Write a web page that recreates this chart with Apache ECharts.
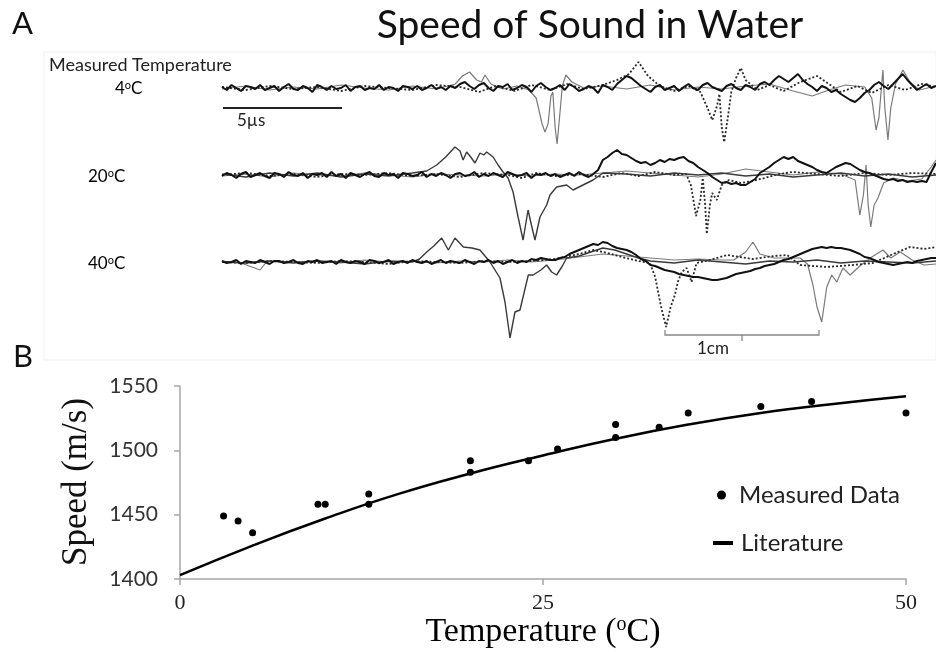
<!DOCTYPE html>
<html><head><meta charset="utf-8">
<script src="https://cdn.jsdelivr.net/npm/echarts@6/dist/echarts.min.js"></script>
<style>html,body{margin:0;padding:0;background:#fff}#c{width:936px;height:652px}</style>
</head><body><div id="c"></div>
<script>
// ---------- Panel A: waveforms (time in µs, amplitude in arbitrary units) ----------
const STEP = 0.2; // sampling interval of the dense black traces (µs)
const black4 = [1,-2,3,0,-3,2,1,-1,3,-2,0,2,-3,1,4,-1,-2,2,0,-4,3,1,-2,2,-1,0,3,-3,1,2,-2,0,-1,3,-2,1,0,-3,2,1,-1,2,-2,0,3,-1,1,-2,2,0,
 4,6,2,-1,3,5,0,-3,2,1,4,-2,0,3,1,-4,2,5,1,-2,
 0,3,-2,4,1,-3,-1,2,0,-5,3,1,-2,4,8,12,10,6,2,-1,
 -4,1,3,-2,0,2,-3,1,4,0,-2,3,5,1,-1,-3,2,4,0,-2,
 3,1,-2,4,6,3,8,12,9,6,10,14,8,4,1,-3,2,0,-4,-2,
 -6,-9,-12,-14,-10,-5,-2,3,6,2,-1,4,9,14,8,3,-2,1,4,0,2];
const dotted4 = [[0,1],[1,-2],[2,2],[3,-1],[4,1],[5,-3],[6,2],[7,0],[8,-2],[9,3],[10,1],[10.8,-4],[11.5,2],[12.3,-3],[13,3],[13.8,-2],[14.5,4],[15.2,-1],[16,3],[16.6,8],[17.1,14],[17.5,26],[17.9,12],[18.4,2],[19,-3],[19.6,2],[20.1,-4],[20.4,-20],[20.6,-32],[20.8,-18],[20.9,-6],[21.0,-40],[21.1,-54],[21.25,-30],[21.4,-4],[21.6,10],[21.8,20],[22.0,8],[22.5,-2],[23,3],[23.6,-3],[24.3,6],[25,12],[25.5,4],[26,-4],[26.7,2],[27.3,-5],[28,3],[28.7,-2],[29.4,4],[30,1]];
const gray4 = [[0,-1],[1,2],[2,-2],[3,1],[4,-1],[5,3],[6,0],[7,-2],[8,2],[9,-1],[9.8,4],[10.1,12],[10.4,16],[10.7,8],[10.9,6],[11.05,13],[11.3,4],[11.8,-1],[12.4,2],[12.9,-2],[13.2,-10],[13.45,-36],[13.57,-44],[13.7,-36],[13.82,-8],[13.9,-4],[14.0,-40],[14.08,-56],[14.18,-30],[14.3,2],[14.45,13],[14.7,6],[15.2,0],[16,2],[17,-1],[18,3],[19,-2],[20,1],[21,-1],[22,2],[23,4],[24,-3],[24.8,-8],[25.5,-2],[26.2,3],[27,1],[27.3,-10],[27.48,-42],[27.6,-30],[27.77,18],[27.85,-20],[27.98,-52],[28.1,-20],[28.3,4],[28.61,18],[28.9,6],[29.3,-2],[30,2]];

const black20 = [-1,2,0,-3,1,3,-2,0,2,-1,-3,2,1,-2,3,0,-1,2,-3,1,0,2,-2,3,-1,1,-3,2,0,-2,1,3,-1,-2,2,0,1,-3,2,1,-1,0,3,-2,1,-1,2,0,-3,1,
 2,-1,0,3,-2,1,-1,2,0,-2,3,1,-1,0,2,-3,1,0,2,-1,
 1,-2,0,2,-1,3,0,-2,1,5,15,18,22,25,21,20,17,14,12,13,
 10,12,15,13,16,15,17,18,14,12,8,5,2,-2,-5,-8,-7,-9,-8,-10,
 -10,-7,-4,2,5,8,12,15,18,16,18,14,12,10,8,5,3,2,5,8,
 10,12,11,8,5,3,2,0,-2,-4,-5,-4,-6,-5,-7,-6,-7,-6,-7,3,12];
const solid20 = [[0,1],[1,-2],[2,2],[3,-1],[4,2],[5,-2],[6,1],[7,-1],[8,2],[8.6,4],[9.02,10],[9.4,18],[9.79,28],[10.0,24],[10.13,15],[10.28,23],[10.45,18],[10.63,12],[10.84,22],[11.0,20],[11.12,23],[11.39,18],[11.6,10],[11.81,3],[12.02,-3],[12.23,-17],[12.44,-42],[12.65,-65],[12.86,-35],[13.0,-50],[13.15,-65],[13.36,-42],[13.64,-30],[13.78,-20],[14.06,-12],[14.48,-10],[14.75,-15],[15.17,-10],[15.59,-5],[16.01,2],[17,1],[18,-1],[19,2],[20,0],[21,2],[22,-1],[23,1],[24,-2],[25,0],[26,2],[27,-1],[28,1],[29,-2],[30,0]];
const dotted20 = [[0,0],[1,2],[2,-1],[3,1],[4,-2],[5,1],[6,0],[7,2],[8,-1],[9,1],[10,-2],[11,2],[12,0],[12.6,-3],[13.2,2],[14,-1],[15,1],[16,-2],[16.8,2],[17.5,-1],[18.2,3],[19,0],[19.5,1],[19.7,-10],[19.92,-41],[20.1,-25],[20.2,-3],[20.3,-30],[20.37,-59],[20.5,-30],[20.6,-18],[20.79,-25],[21.0,-10],[21.3,-5],[21.8,-8],[22.3,-6],[22.8,-3],[23.4,1],[24,3],[25,1],[26,-1],[27,2],[28,0],[29,2],[30,1]];
const gray20 = [[0,-1],[1,1],[2,-2],[3,2],[4,0],[5,-1],[6,2],[7,0],[8,-2],[9,1],[10,0],[11,-1],[12,1],[13,-1],[14,1],[15,0],[16,2],[17,4],[18,2],[19,0],[20,-2],[21,1],[22,6],[23,3],[24,0],[25,3],[26,1],[26.6,-5],[26.8,-40],[26.95,-20],[27.06,10],[27.15,-30],[27.26,-52],[27.4,-30],[27.56,-23],[27.8,-8],[28.2,-3],[28.8,-6],[29.4,-4],[29.8,8],[30,15]];

const black40 = [1,-1,0,2,-2,1,0,-1,2,0,-2,1,1,-1,0,2,-1,-2,1,0,2,-1,0,1,-2,2,0,-1,1,0,-2,2,1,-1,0,2,-2,0,1,-1,2,0,-1,1,-2,0,2,-1,1,0,
 -1,2,0,-2,1,0,2,-1,1,-2,0,2,-1,1,0,3,2,4,3,2,
 2,4,5,8,10,12,14,16,18,17,20,19,16,14,13,12,10,7,3,1,
 -3,-4,-6,-8,-9,-10,-12,-13,-14,-15,-15,-16,-17,-18,-18,-17,-16,-14,-12,-11,
 -10,-9,-7,-6,-4,-3,-2,0,2,3,5,7,9,11,13,14,15,14,15,14,
 14,13,12,10,8,5,4,2,0,-1,-2,-3,-2,-1,0,-1,1,2,3,4,4];
const solid40 = [[0,0],[1,-1],[2,1],[3,-1],[4,1],[5,0],[6,-2],[7,1],[8,0],[8.3,3],[8.6,10],[8.9,16],[9.23,24],[9.51,12],[9.79,24],[10.14,15],[10.5,14],[10.84,12],[11.26,0],[11.68,-16],[11.89,-40],[12.1,-76],[12.31,-50],[12.52,-48],[12.7,-30],[12.87,-13],[13.07,-13],[13.4,-8],[13.64,-3],[13.85,-10],[14.06,-13],[14.3,-4],[14.48,4],[15,6],[15.5,10],[16,14],[16.5,12],[17,8],[17.5,4],[18,1],[19,-1],[20,2],[21,0],[22,-2],[23,1],[24,0],[25,2],[26,-1],[27,1],[28,0],[29,-1],[30,1]];
const dotted40 = [[0,0],[1,-1],[2,1],[3,0],[4,-1],[5,1],[6,0],[7,-2],[8,1],[9,0],[10,-1],[11,1],[12,0],[13,1],[14,3],[15,8],[15.6,12],[16.2,9],[16.8,5],[17.5,1],[17.98,-1],[18.2,-15],[18.45,-45],[18.66,-65],[18.85,-45],[19.03,-33],[19.15,-20],[19.32,-10],[19.52,-6],[19.73,-20],[19.94,-1],[20.5,2],[21.22,7],[22.3,3],[23.2,6],[23.74,7],[24.29,-3],[25.42,-5],[26.5,-3],[27.35,-1],[28.2,8],[28.91,15],[29.5,13],[30,15]];
const gray40 = [[0,1],[0.8,-1],[1.6,-8],[1.9,1],[3,0],[4,1],[5,-1],[6,2],[7,0],[8,1],[9,-1],[10,1],[11,0],[12,2],[13,0],[14,2],[15,5],[16,8],[17,6],[18,4],[19,2],[20,3],[21,2],[21.5,2],[22.0,10],[22.31,20],[22.6,8],[23.2,4],[24.29,4],[24.6,-2],[24.83,-23],[25.0,-45],[25.2,-60],[25.35,-35],[25.41,-25],[25.62,-13],[25.83,-20],[26.09,-6],[26.39,-13],[26.8,-4],[27.3,5],[27.77,12],[28.1,4],[28.5,10],[29,2],[29.5,-3],[30,-2]];

const tempLabels = ['4', '20', '40'];

// ---------- Panel B ----------
const measuredT = [3,4,5,9.5,10,13,13,20,20,24,26,30,30,33,35,40,43.5,50];
const measuredSpeed = [1449,1445,1436,1458,1458,1466,1458,1492,1483,1492,1501,1520,1510,1518,1529,1534,1538,1529];
const litT = [0,5,10,15,20,25,30,35,40,45,50];
const litSpeed = [1403,1426,1447,1466,1482,1496,1509,1520,1529,1536,1542];
const speedTicks = [1400,1450,1500,1550];
const tempTicks = [0,25,50];

// ---------- build ----------
const SANS = 'Lato';
const SERIF = 'Liberation Serif';
const chart = echarts.init(document.getElementById('c'), null, {renderer:'canvas'});
const dense = arr => arr.map((v,i)=>[+(i*STEP).toFixed(2), v]);

const gridsA = [
  {left:222, width:714, top:50, height:100},
  {left:222, width:714, top:140, height:105},
  {left:222, width:714, top:232, height:115}
];
const yRangesA = [[-62,38],[-70,35],[-85,30]];
const gridB = {left:180, width:726, top:386, height:193};

const xAxes = gridsA.map((g,i)=>({gridIndex:i, type:'value', min:0, max:30, show:false}));
const yAxes = gridsA.map((g,i)=>({gridIndex:i, type:'value', min:yRangesA[i][0], max:yRangesA[i][1], show:false}));

xAxes.push({gridIndex:3, type:'value', min:tempTicks[0], max:tempTicks[tempTicks.length-1], interval:tempTicks[1]-tempTicks[0],
  axisLine:{lineStyle:{color:'#a6a6a6', width:1.5}},
  axisTick:{show:true, length:6, lineStyle:{color:'#a6a6a6', width:1.5}},
  axisLabel:{fontFamily:SERIF, fontSize:22, color:'#222', margin:13},
  splitLine:{show:false}});
yAxes.push({gridIndex:3, type:'value', min:speedTicks[0], max:speedTicks[speedTicks.length-1], interval:speedTicks[1]-speedTicks[0],
  axisLine:{show:true, lineStyle:{color:'#a6a6a6', width:1.5}},
  axisTick:{show:true, length:6, lineStyle:{color:'#a6a6a6', width:1.5}},
  axisLabel:{fontFamily:SANS, fontSize:21, color:'#333', margin:22, formatter: v => String(v)},
  splitLine:{show:false}});

function line(idx, data, color, width, type){
  return {type:'line', xAxisIndex:idx, yAxisIndex:idx, data:data, showSymbol:false, symbol:'none',
    lineStyle:{color:color, width:width, type:type||'solid'}, silent:true, animation:false, z:2};
}
const series = [
  line(0, gray4, '#7a7a7a', 1.2),
  line(0, dotted4, '#2a2a2a', 1.8, [2,2]),
  line(0, dense(black4), '#111', 2),
  line(1, gray20, '#7a7a7a', 1.2),
  line(1, dotted20, '#2a2a2a', 1.8, [2,2]),
  line(1, solid20, '#3a3a3a', 1.4),
  line(1, dense(black20), '#111', 2),
  line(2, gray40, '#7a7a7a', 1.2),
  line(2, dotted40, '#2a2a2a', 1.8, [2,2]),
  line(2, solid40, '#3a3a3a', 1.4),
  line(2, dense(black40), '#111', 2),
  {name:'Literature', type:'line', xAxisIndex:3, yAxisIndex:3, smooth:true, symbol:'none', showSymbol:false,
   data: litT.map((t,i)=>[t, litSpeed[i]]), lineStyle:{color:'#000', width:2.5}, itemStyle:{color:'#000'}, animation:false, z:3},
  {name:'Measured Data', type:'scatter', xAxisIndex:3, yAxisIndex:3, symbolSize:7,
   data: measuredT.map((t,i)=>[t, measuredSpeed[i]]), itemStyle:{color:'#000', opacity:1}, animation:false, z:4}
];

const supRich = (fs) => ({a:{fontFamily:SANS, fontSize:fs, color:'#222'}, s:{fontFamily:SANS, fontSize:Math.round(fs*0.62), color:'#222', verticalAlign:'top', padding:[0,0,Math.round(fs*0.45),0]}});
const graphic = [
  {type:'rect', shape:{x:44, y:52, width:892, height:308}, style:{fill:'none', stroke:'#f1f1f1', lineWidth:1}, silent:true, z:0},
  {type:'text', x:12, y:24, style:{text:'A', fontFamily:SANS, fontSize:31, fill:'#111', textVerticalAlign:'middle'}},
  {type:'text', x:13, y:357, style:{text:'B', fontFamily:SANS, fontSize:31, fill:'#111', textVerticalAlign:'middle'}},
  {type:'text', x:590, y:25, style:{text:'Speed of Sound in Water', fontFamily:SANS, fontSize:39, fill:'#111', textAlign:'center', textVerticalAlign:'middle'}},
  {type:'text', x:49, y:65, style:{text:'Measured Temperature', fontFamily:SANS, fontSize:18, fill:'#222', textVerticalAlign:'middle'}},
  {type:'text', x:115, y:89, style:{text:'{a|'+tempLabels[0]+'}{s|o}{a|C}', rich:supRich(17), textVerticalAlign:'middle'}},
  {type:'text', x:88, y:177, style:{text:'{a|'+tempLabels[1]+'}{s|o}{a|C}', rich:supRich(17), textVerticalAlign:'middle'}},
  {type:'text', x:88, y:264, style:{text:'{a|'+tempLabels[2]+'}{s|o}{a|C}', rich:supRich(17), textVerticalAlign:'middle'}},
  // 5 µs scale bar
  {type:'line', shape:{x1:223, y1:108, x2:342, y2:108}, style:{stroke:'#222', lineWidth:2}},
  {type:'text', x:237, y:121, style:{text:'5µs', fontFamily:SANS, fontSize:17, fill:'#222', textVerticalAlign:'middle'}},
  // 1 cm bracket
  {type:'polyline', shape:{points:[[665,330],[665,335],[819,335],[819,330]]}, style:{stroke:'#888', lineWidth:1.3, fill:'none'}},
  {type:'line', shape:{x1:742, y1:335, x2:742, y2:341}, style:{stroke:'#888', lineWidth:1.3}},
  {type:'text', x:697, y:349, style:{text:'1cm', fontFamily:SANS, fontSize:17, fill:'#222', textVerticalAlign:'middle'}},
  // axis titles of panel B
  {type:'text', x:77, y:482, rotation:Math.PI/2, style:{text:'Speed (m/s)', fontFamily:SERIF, fontSize:35, fill:'#111', textAlign:'center', textVerticalAlign:'middle'}},
  {type:'text', x:543, y:632, style:{text:'{a|Temperature (}{s|o}{a|C)}', textAlign:'center', textVerticalAlign:'middle',
    rich:{a:{fontFamily:SERIF, fontSize:34, color:'#111'}, s:{fontFamily:SERIF, fontSize:20, color:'#111', verticalAlign:'top', padding:[0,0,14,0]}}}}
];

chart.setOption({
  backgroundColor:'#fff',
  animation:false,
  grid: gridsA.concat([gridB]),
  xAxis: xAxes,
  yAxis: yAxes,
  legend:[
    {data:[{name:'Measured Data', icon:'circle'}], left:717, top:483, padding:0, itemWidth:9, itemHeight:9,
     textStyle:{fontFamily:SANS, fontSize:24, color:'#222', padding:[0,0,0,8]}, selectedMode:false},
    {data:[{name:'Literature', icon:'rect'}], left:713, top:531, padding:0, itemWidth:20, itemHeight:4,
     textStyle:{fontFamily:SANS, fontSize:24, color:'#222', padding:[0,0,0,3]}, selectedMode:false}
  ],
  series: series,
  graphic: graphic
});
</script>
</body></html>
